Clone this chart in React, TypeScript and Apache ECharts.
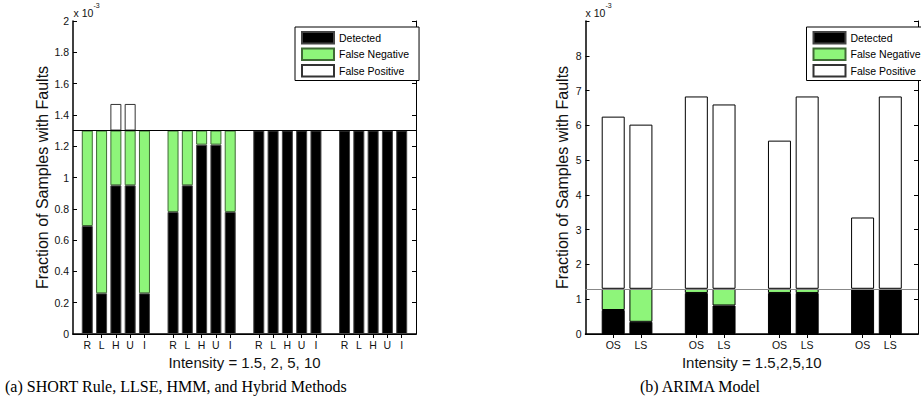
import React, { useEffect, useRef } from 'react';
import * as echarts from 'echarts';

// Fault-detection outcomes, in units of 10^-3 (fraction of samples with faults).
// Each row is one injected-fault intensity: 1.5, 2, 5, 10.
const shortMethods = ['R', 'L', 'H', 'U', 'I'];
const arimaMethods = ['OS', 'LS'];
const faultRate = 1.3;

const shortDetected = [
  [0.69, 0.26, 0.95, 0.95, 0.26],
  [0.78, 0.95, 1.21, 1.21, 0.78],
  [1.3, 1.3, 1.3, 1.3, 1.3],
  [1.3, 1.3, 1.3, 1.3, 1.3],
];
const shortFalseNeg = [
  [0.61, 1.04, 0.35, 0.35, 1.04],
  [0.52, 0.35, 0.09, 0.09, 0.52],
  [0, 0, 0, 0, 0],
  [0, 0, 0, 0, 0],
];
const shortFalsePos = [
  [0, 0, 0.17, 0.17, 0],
  [0, 0, 0, 0, 0],
  [0, 0, 0, 0, 0],
  [0, 0, 0, 0, 0],
];

const arimaDetected = [
  [0.69, 0.35],
  [1.18, 0.82],
  [1.18, 1.18],
  [1.3, 1.3],
];
const arimaFalseNeg = [
  [0.61, 0.95],
  [0.12, 0.48],
  [0.12, 0.12],
  [0, 0],
];
const arimaFalsePos = [
  [4.95, 4.72],
  [5.53, 5.3],
  [4.26, 5.53],
  [2.05, 5.53],
];

const shortYMax = 2;
const shortYStep = 0.2;
const arimaYMax = 9;
const arimaYStep = 1;
const arimaLastLabel = 8;

const legendNames = ['Detected', 'False Negative', 'False Positive'];

// Lay the groups out on one axis with a blank slot before each group and at the end.
function toSlots<T>(groups: T[][], blank: T): T[] {
  const out: T[] = [blank];
  groups.forEach((g) => {
    out.push(...g, blank);
  });
  return out;
}

const segment = (groups: number[][]) =>
  toSlots<number | string>(groups.map((g) => g.map((v) => (v > 0 ? v : '-'))), '-');

const FONT = '"Liberation Sans", Arial, sans-serif';
const SERIF = '"Liberation Serif", "Times New Roman", serif';
const GREEN = '#8ef57a';

function panel(
  gi: number,
  categories: string[],
  yMax: number,
  yStep: number,
  labelFmt: (v: number) => string,
  xName: string,
  yNameGap: number
) {
  const xAxes = [
    {
      type: 'category',
      gridIndex: gi,
      position: 'bottom',
      data: categories,
      boundaryGap: false,
      axisLine: { lineStyle: { color: '#000', width: 1.5 } },
      axisTick: { show: false },
      axisLabel: { interval: 0, fontSize: 10.5, color: '#111', margin: 5, fontFamily: FONT },
      name: xName,
      nameLocation: 'middle',
      nameGap: 16,
      nameTextStyle: { fontSize: 15, color: '#111', fontFamily: FONT },
      splitLine: { show: false },
    },
    {
      type: 'category',
      gridIndex: gi,
      position: 'top',
      data: categories,
      boundaryGap: false,
      axisLine: { lineStyle: { color: '#000', width: 1.2 } },
      axisTick: {
        inside: true,
        length: 4,
        interval: (_i: number, v: string) => v !== '',
        lineStyle: { color: '#000' },
      },
      axisLabel: { show: false },
      splitLine: { show: false },
    },
  ];
  const yAxes = [
    {
      type: 'value',
      gridIndex: gi,
      position: 'left',
      min: 0,
      max: yMax,
      interval: yStep,
      axisLine: { show: true, lineStyle: { color: '#000', width: 1.5 } },
      axisTick: { show: true, inside: true, length: 4, lineStyle: { color: '#000' } },
      axisLabel: { fontSize: 10.5, color: '#111', margin: 4, fontFamily: FONT, formatter: labelFmt },
      splitLine: { show: false },
      name: 'Fraction of Samples with Faults',
      nameLocation: 'middle',
      nameGap: yNameGap,
      nameTextStyle: { fontSize: 16, color: '#111', fontFamily: FONT },
    },
    {
      type: 'value',
      gridIndex: gi,
      position: 'right',
      min: 0,
      max: yMax,
      interval: yStep,
      axisLine: { show: true, lineStyle: { color: '#000', width: 1 } },
      axisTick: { show: true, inside: true, length: 4, lineStyle: { color: '#000' } },
      axisLabel: { show: false },
      splitLine: { show: false },
    },
  ];
  return { xAxes, yAxes };
}

export default function App() {
  const ref = useRef<HTMLDivElement>(null);

  useEffect(() => {
    if (!ref.current) return;
    const chart = echarts.init(ref.current, undefined, { renderer: 'svg' });

    const shortCats = toSlots(shortDetected.map(() => shortMethods), '');
    const arimaCats = toSlots(arimaDetected.map(() => arimaMethods), '');

    const left = panel(0, shortCats, shortYMax, shortYStep, (v) => String(v), 'Intensity = 1.5, 2, 5, 10', 22);
    const right = panel(
      1,
      arimaCats,
      arimaYMax,
      arimaYStep,
      (v) => (v > arimaLastLabel ? '' : String(v)),
      'Intensity = 1.5,2,5,10',
      15
    );

    const bar = (
      name: string,
      axisIdx: number,
      data: (number | string)[],
      color: string,
      borderColor: string,
      width: number,
      extra: object = {}
    ) => ({
      type: 'bar',
      name,
      stack: 'panel' + axisIdx,
      xAxisIndex: axisIdx * 2,
      yAxisIndex: axisIdx * 2,
      data,
      barWidth: width,
      itemStyle: { color, borderColor, borderWidth: 1 },
      emphasis: { disabled: true },
      ...extra,
    });

    const thresholdLine = (color: string) => ({
      markLine: {
        silent: true,
        symbol: ['none', 'none'],
        label: { show: false },
        lineStyle: { color, width: 1, type: 'solid' },
        data: [{ yAxis: faultRate }],
      },
    });

    const legend = (left: number, padding: number[]) => ({
      data: legendNames,
      orient: 'vertical',
      left,
      top: 27,
      itemWidth: 32,
      itemHeight: 11.5,
      itemGap: 3,
      icon: 'rect',
      padding,
      borderColor: '#000',
      borderWidth: 1,
      backgroundColor: '#fff',
      selectedMode: false,
      textStyle: { fontSize: 10.5, color: '#000', fontFamily: FONT },
    });

    const sup = (x: number, base: string, y: number) => [
      {
        type: 'text',
        x,
        y,
        style: { text: base, fontSize: 10.5, fill: '#111', fontFamily: FONT, verticalAlign: 'middle' },
      },
      {
        type: 'text',
        x: x + 20,
        y: y - 8,
        style: { text: '-3', fontSize: 7, fill: '#111', fontFamily: FONT, verticalAlign: 'middle' },
      },
    ];

    const caption = (x: number, text: string) => ({
      type: 'text',
      x,
      y: 386,
      style: { text, fontSize: 16, fill: '#000', fontFamily: SERIF, verticalAlign: 'middle' },
    });

    chart.setOption({
      animation: false,
      textStyle: { fontFamily: FONT },
      grid: [
        { left: 73, top: 21, width: 343, height: 313 },
        { left: 585.5, top: 21, width: 343, height: 313 },
      ],
      xAxis: [...left.xAxes, ...right.xAxes],
      yAxis: [...left.yAxes, ...right.yAxes],
      legend: [legend(295, [4, 10, 3, 6]), legend(806.5, [4, 4, 3, 6])],
      series: [
        bar('Detected', 0, segment(shortDetected), '#000', '#444', 11),
        bar('False Negative', 0, segment(shortFalseNeg), GREEN, '#3f6a35', 11),
        bar('False Positive', 0, segment(shortFalsePos), '#fff', '#333', 11, thresholdLine('#000')),
        bar('Detected', 1, segment(arimaDetected), '#000', '#000', 23),
        bar('False Negative', 1, segment(arimaFalseNeg), GREEN, '#000', 23),
        bar('False Positive', 1, segment(arimaFalsePos), '#fff', '#000', 23, thresholdLine('#888')),
      ],
      graphic: [
        ...sup(73.5, 'x 10', 13),
        ...sup(585.5, 'x 10', 13),
        caption(5, '(a) SHORT Rule, LLSE, HMM, and Hybrid Methods'),
        caption(640, '(b) ARIMA Model'),
      ],
    });

    return () => chart.dispose();
  }, []);

  return (
    <div
      ref={ref}
      style={{ position: 'absolute', left: 0, top: 0, width: 921, height: 405, background: '#fff' }}
    />
  );
}
